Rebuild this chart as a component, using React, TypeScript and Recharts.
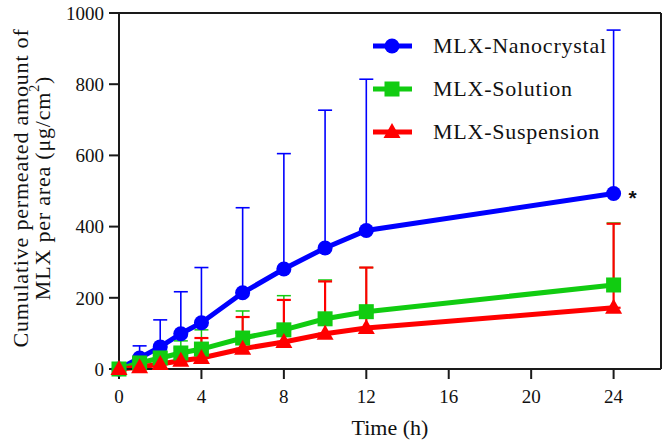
import { LineChart, Line, XAxis, YAxis, ErrorBar, ReferenceLine, Legend, LabelList } from "recharts";

// sampling times (h)
const hours = [0, 1, 2, 3, 4, 6, 8, 10, 12, 24];

// cumulative permeated amount (µg/cm2), mean and upper SD
const nanocrystal = [0, 31, 62, 99, 130, 214, 281, 340, 389, 493];
const nanocrystalSd = [0, 34, 76, 118, 155, 239, 324, 387, 425, 459];
const solution = [0, 17, 31, 45, 56, 87, 110, 141, 161, 236];
const solutionSd = [0, 8, 17, 34, 54, 76, 96, 109, 124, 174];
const suspension = [0, 5, 14, 23, 31, 57, 76, 99, 115, 172];
const suspensionSd = [0, 5, 14, 36, 56, 89, 118, 147, 170, 236];

const xTicks = [0, 4, 8, 12, 16, 20, 24];
const yTicks = [0, 200, 400, 600, 800, 1000];

const BLUE = "#0000ff";
const GREEN = "#11cc11";
const RED = "#ff0000";
const AXIS = "#1a1a1a";
const FONT = "Liberation Serif";
const X_MAX = 26.3;

const data = hours.map((h, i) => ({
  time: h,
  nano: nanocrystal[i],
  nanoErr: [0, nanocrystalSd[i]],
  sol: solution[i],
  solErr: [0, solutionSd[i]],
  susp: suspension[i],
  suspErr: [0, suspensionSd[i]],
}));

function CircleDot(props: any) {
  const { cx, cy, index } = props;
  return <circle key={`c-${index}`} cx={cx} cy={cy} r={7.5} fill={BLUE} />;
}

function SquareDot(props: any) {
  const { cx, cy, index } = props;
  return <rect key={`s-${index}`} x={cx - 7.5} y={cy - 7.5} width={15} height={15} fill={GREEN} />;
}

function TriangleDot(props: any) {
  const { cx, cy, index } = props;
  return (
    <polygon
      key={`t-${index}`}
      points={`${cx},${cy - 9} ${cx + 8.5},${cy + 6} ${cx - 8.5},${cy + 6}`}
      fill={RED}
    />
  );
}

const series = [
  { name: "MLX-Nanocrystal", color: BLUE, Marker: CircleDot },
  { name: "MLX-Solution", color: GREEN, Marker: SquareDot },
  { name: "MLX-Suspension", color: RED, Marker: TriangleDot },
];

function LegendBox() {
  return (
    <div>
      {series.map((s) => (
        <div key={s.name} style={{ display: "flex", alignItems: "center", height: 43 }}>
          <svg width={63} height={20}>
            <line x1={3} y1={10} x2={42} y2={10} stroke={s.color} strokeWidth={5} />
            <s.Marker cx={22} cy={10} index={0} />
          </svg>
          <span style={{ fontFamily: FONT, fontSize: 22, letterSpacing: 0.75, color: "#111", whiteSpace: "nowrap" }}>
            {s.name}
          </span>
        </div>
      ))}
    </div>
  );
}

function YTitle(props: any) {
  const cy = 188;
  return (
    <g fontFamily={FONT} fontSize={22} fill="#111" letterSpacing={0.8}>
      <text x={20} y={cy} textAnchor="middle" dominantBaseline="central" transform={`rotate(-90, 20, ${cy})`}>
        Cumulative permeated amount of
      </text>
      <text x={42} y={cy} textAnchor="middle" dominantBaseline="central" transform={`rotate(-90, 42, ${cy})`}>
        MLX per area (μg/cm
        <tspan dy={-8} fontSize={14}>2</tspan>
        <tspan dy={8}>)</tspan>
      </text>
    </g>
  );
}

function XTitle(props: any) {
  return (
    <text x={390} y={435} textAnchor="middle" fontFamily={FONT} fontSize={22} fill="#111">
      Time (h)
    </text>
  );
}

function Star(props: any) {
  const { x, y, index } = props;
  if (index !== hours.length - 1) return null;
  return (
    <text x={x + 15} y={y + 12} fontFamily="Liberation Sans" fontWeight="bold" fontSize={21} fill="#111">
      *
    </text>
  );
}

export default function App() {
  const tickStyle = { fontFamily: FONT, fontSize: 19, fill: "#111" };
  return (
    <div style={{ position: "absolute", left: 0, top: 0, width: 666, height: 445, background: "#fff", fontFamily: FONT }}>
      <LineChart
        width={666}
        height={445}
        data={data}
        margin={{ top: 13, right: 5, bottom: 0, left: 0 }}
        style={{ fontFamily: FONT }}
      >
        <XAxis
          dataKey="time"
          type="number"
          domain={[0, X_MAX]}
          ticks={xTicks}
          height={76}
          tickSize={10}
          tickMargin={11}
          tick={tickStyle}
          fontFamily={FONT}
          fontSize={19}
          stroke={AXIS}
          strokeWidth={2}
          label={<XTitle />}
        />
        <YAxis
          type="number"
          domain={[0, 1000]}
          ticks={yTicks}
          width={119}
          tickSize={10}
          tickMargin={5}
          tick={tickStyle}
          fontFamily={FONT}
          fontSize={19}
          stroke={AXIS}
          strokeWidth={2}
          label={<YTitle />}
        />
        <ReferenceLine y={1000} stroke={AXIS} strokeWidth={2} />
        <ReferenceLine x={X_MAX} stroke={AXIS} strokeWidth={2} />
        <Legend
          verticalAlign="middle"
          align="center"
          layout="vertical"
          wrapperStyle={{ left: 370, top: 24, width: 280 }}
          content={() => <LegendBox />}
        />
        <Line
          dataKey="nano"
          name="MLX-Nanocrystal"
          stroke={BLUE}
          strokeWidth={5}
          dot={CircleDot}
          activeDot={false}
          isAnimationActive={false}
        >
          <LabelList dataKey="nano" content={Star} />
        </Line>
        <Line
          dataKey="sol"
          name="MLX-Solution"
          stroke={GREEN}
          strokeWidth={5}
          dot={SquareDot}
          activeDot={false}
          isAnimationActive={false}
        />
        <Line
          dataKey="susp"
          name="MLX-Suspension"
          stroke={RED}
          strokeWidth={5}
          dot={TriangleDot}
          activeDot={false}
          isAnimationActive={false}
        />
        {/* error bars drawn last so they sit over the markers, like the original */}
        <Line dataKey="nano" stroke="none" dot={false} activeDot={false} legendType="none" isAnimationActive={false}>
          <ErrorBar dataKey="nanoErr" direction="y" width={7} stroke={BLUE} strokeWidth={1.6} />
        </Line>
        <Line dataKey="sol" stroke="none" dot={false} activeDot={false} legendType="none" isAnimationActive={false}>
          <ErrorBar dataKey="solErr" direction="y" width={7} stroke={GREEN} strokeWidth={1.5} />
        </Line>
        <Line dataKey="susp" stroke="none" dot={false} activeDot={false} legendType="none" isAnimationActive={false}>
          <ErrorBar dataKey="suspErr" direction="y" width={7} stroke={RED} strokeWidth={2.2} />
        </Line>
      </LineChart>
    </div>
  );
}
